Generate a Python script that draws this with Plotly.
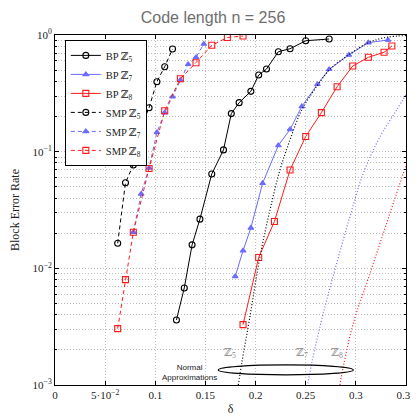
import plotly.graph_objects as go

# ---------------- data ----------------
bp5_x = [0.1211, 0.1289, 0.1367, 0.1445, 0.1563, 0.1680, 0.1758, 0.1836, 0.1953, 0.2031, 0.2109, 0.2227, 0.2344, 0.2500, 0.2734]
bp5_y = [0.00361, 0.00679, 0.0159, 0.0264, 0.0644, 0.1035, 0.212, 0.263, 0.329, 0.454, 0.511, 0.719, 0.763, 0.893, 0.924]

bp7_x = [0.1797, 0.1875, 0.1953, 0.2070, 0.2227, 0.2344, 0.2461, 0.2617, 0.2734, 0.2930, 0.3125, 0.3320]
bp7_y = [0.00853, 0.01418, 0.0222, 0.0536, 0.113, 0.155, 0.244, 0.378, 0.508, 0.674, 0.859, 0.906]

bp8_x = [0.1875, 0.2031, 0.2188, 0.2344, 0.2500, 0.2656, 0.2813, 0.2969, 0.3125, 0.3281, 0.3359]
bp8_y = [0.00329, 0.0124, 0.0252, 0.0697, 0.135, 0.216, 0.360, 0.542, 0.644, 0.711, 0.805]

smp5_x = [0.0625, 0.0703, 0.0781, 0.0859, 0.0938, 0.1016, 0.1094, 0.1172]
smp5_y = [0.0164, 0.0542, 0.0769, 0.164, 0.238, 0.398, 0.535, 0.759]

smp7_x = [0.0781, 0.0859, 0.0938, 0.1016, 0.1094, 0.1172, 0.1250, 0.1328, 0.1406, 0.1484]
smp7_y = [0.0204, 0.0434, 0.0725, 0.1466, 0.216, 0.296, 0.411, 0.561, 0.644, 0.837]

smp8_x = [0.0625, 0.0703, 0.0781, 0.0938, 0.1094, 0.1250, 0.1406, 0.1563, 0.1719, 0.1875]
smp8_y = [0.00304, 0.0080, 0.0204, 0.0718, 0.2245, 0.422, 0.579, 0.816, 0.952, 0.98]

na5_x = [0.1828, 0.1862, 0.1944, 0.2044, 0.2144, 0.2243, 0.2343, 0.2460, 0.2609, 0.2742, 0.2925, 0.3124, 0.3307, 0.3500]
na5_y = [0.0010, 0.00154, 0.00386, 0.0126, 0.0317, 0.0697, 0.126, 0.2275, 0.361, 0.508, 0.674, 0.859, 0.956, 0.99]

na7_x = [0.2516, 0.2560, 0.2675, 0.2809, 0.2941, 0.3074, 0.3241, 0.3407, 0.3507]
na7_y = [0.00097, 0.00154, 0.00412, 0.01106, 0.0277, 0.0653, 0.1345, 0.2275, 0.316]

na8_x = [0.2835, 0.2875, 0.2974, 0.3108, 0.3241, 0.3373, 0.3507]
na8_y = [0.00094, 0.00144, 0.00338, 0.00745, 0.0164, 0.0361, 0.0796]

x_tickvals = [0, 0.05, 0.1, 0.15, 0.2, 0.25, 0.3, 0.35]
x_ticktext = ["0", "5·10<sup>−2</sup>", "0.1", "0.15", "0.2", "0.25", "0.3", "0.35"]
y_tickvals = [1e-3, 1e-2, 1e-1, 1]
y_ticktext = ["10<sup>−3</sup>", "10<sup>−2</sup>", "10<sup>−1</sup>", "10<sup>0</sup>"]
y_minorvals = [k * 10.0 ** e for e in (-3, -2, -1) for k in range(2, 10)]

BLACK = "#000000"
BLUE = "#6b6bff"
RED = "#ff1a1a"
SERIF = "Liberation Serif, DejaVu Serif, serif"
GRID = "#bdbdbd"
GRIDDASH = "1px,2px"

fig = go.Figure()

def add(x, y, name, color, symbol, dash, show=True, marker=True, width=1.0, shape="linear", size=6):
    fig.add_trace(go.Scatter(
        x=x, y=y, name=name, showlegend=show,
        mode="lines+markers" if marker else "lines",
        line=dict(color=color, width=width, dash=dash, shape=shape),
        marker=dict(symbol=symbol, size=size, color=color,
                    line=dict(color=color, width=1.1)) if marker else None,
    ))

add(bp5_x, bp5_y, "BP ℤ<sub>5</sub>", BLACK, "circle-open", "solid")
add(bp7_x, bp7_y, "BP ℤ<sub>7</sub>", BLUE, "triangle-up", "solid", size=5)
add(bp8_x, bp8_y, "BP ℤ<sub>8</sub>", RED, "square-open", "solid")
add(smp5_x, smp5_y, "SMP ℤ<sub>5</sub>", BLACK, "circle-open", "4px,3px")
add(smp7_x, smp7_y, "SMP ℤ<sub>7</sub>", BLUE, "triangle-up", "4px,3px", size=5)
add(smp8_x, smp8_y, "SMP ℤ<sub>8</sub>", RED, "square-open", "4px,3px")
add(na5_x, na5_y, "NA5", BLACK, None, "1px,2px", show=False, marker=False, width=1.2, shape="spline")
add(na7_x, na7_y, "NA7", BLUE, None, "1px,2px", show=False, marker=False, width=1.2, shape="spline")
add(na8_x, na8_y, "NA8", RED, None, "1px,2px", show=False, marker=False, width=1.2, shape="spline")

# ellipse around the normal approximations
fig.add_shape(type="circle", xref="x", yref="y",
              x0=0.1628, x1=0.2974, y0=0.00122, y1=0.001486,
              line=dict(color="black", width=1.2))

for lab, xv in [("ℤ<sub>5</sub>", 0.1745), ("ℤ<sub>7</sub>", 0.246), ("ℤ<sub>8</sub>", 0.281)]:
    fig.add_annotation(x=xv, y=-2.725, text=lab, showarrow=False,
                       font=dict(family=SERIF, size=11, color="#8a8a8a"))
fig.add_annotation(x=0.1346, y=-2.896, text="Normal<br>Approximations", showarrow=False,
                   font=dict(family="Liberation Sans, Arial, sans-serif", size=8, color="#222222"))

fig.update_layout(
    width=410, height=410,
    margin=dict(l=47, r=12, t=27, b=33, autoexpand=False),
    paper_bgcolor="white", plot_bgcolor="white",
    title=dict(text="Code length n = 256", x=0.5, xanchor="center",
               y=0.976, yanchor="middle", yref="container",
               font=dict(family="Liberation Sans, Arial, sans-serif", size=16, color="#6e6e6e")),
    showlegend=True,
    legend=dict(x=0.028, y=0.986, xanchor="left", yanchor="top",
                bgcolor="white", bordercolor="black", borderwidth=1,
                font=dict(family=SERIF, size=10.5, color="#222"),
                tracegroupgap=0, itemwidth=30),
    font=dict(family=SERIF, size=11, color="#222"),
)

fig.update_xaxes(range=[0, 0.35], tickvals=x_tickvals, ticktext=x_ticktext,
                 showline=True, linecolor="black", linewidth=1, mirror="allticks",
                 ticks="inside", ticklen=4, tickcolor="black", automargin=False,
                 showgrid=True, gridcolor=GRID, griddash=GRIDDASH, gridwidth=1,
                 zeroline=False,
                 title=dict(text="δ", font=dict(family=SERIF, size=12), standoff=4),
                 tickfont=dict(family=SERIF, size=11, color="#222"))

fig.update_yaxes(type="log", range=[-3, 0], tickvals=y_tickvals, ticktext=y_ticktext,
                 showline=True, linecolor="black", linewidth=1, mirror="allticks",
                 ticks="inside", ticklen=4, tickcolor="black", automargin=False,
                 showgrid=True, gridcolor=GRID, griddash=GRIDDASH, gridwidth=1,
                 minor=dict(tickmode="array", tickvals=y_minorvals,
                            ticks="inside", ticklen=2, tickcolor="black",
                            showgrid=True, gridcolor=GRID, griddash=GRIDDASH),
                 zeroline=False,
                 title=dict(text="Block Error Rate", font=dict(family=SERIF, size=12), standoff=10),
                 tickfont=dict(family=SERIF, size=11, color="#222"))

fig.write_html("out.html")
